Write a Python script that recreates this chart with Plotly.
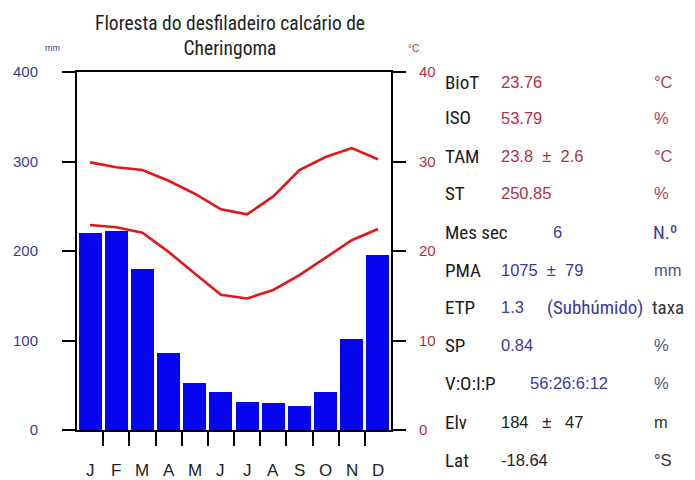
import plotly.graph_objects as go

months = ["J", "F", "M", "A", "M", "J", "J", "A", "S", "O", "N", "D"]
precip_mm = [220, 222, 180, 86, 53, 43, 31, 30, 27, 42, 102, 195]
tmax_c = [29.9, 29.35, 29.05, 27.85, 26.4, 24.65, 24.1, 26.1, 29.05, 30.5, 31.5, 30.25]
tmin_c = [22.9, 22.65, 22.05, 19.9, 17.5, 15.1, 14.7, 15.65, 17.3, 19.2, 21.2, 22.45]
left_ticks = [0, 100, 200, 300, 400]
right_ticks = [0, 10, 20, 30, 40]

title_lines = ["Floresta do desfiladeiro calcário de", "Cheringoma"]

table_labels = ["BioT", "ISO", "TAM", "ST", "Mes sec", "PMA", "ETP", "SP", "V:O:I:P", "Elv", "Lat"]
table_values = ["23.76", "53.79", "23.8  ±  2.6", "250.85", "6", "1075  ±  79", "1.3", "0.84",
                "56:26:6:12", "184   ±   47", "-18.64"]
table_units = ["°C", "%", "°C", "%", "N.º", "mm", "taxa", "%", "%", "m", "°S"]
table_groups = ["red", "red", "red", "red", "blue", "blue", "blue", "blue", "blue", "black", "black"]
etp_class = "(Subhúmido)"

W, H = 695, 480
OX, OY = 8, 8  # page body margin offset


def px(x):
    return (x - OX) / W


def py(y):
    return 1 - (y - OY) / H


x0, x1 = 77, 391
ytop, ybot = 72, 430

RED = "#b3303f"
BLUE = "#3a3a9c"
LABEL_FONT = "Liberation Sans Narrow, Roboto Condensed, Noto Sans, sans-serif"
VAL_FONT = "Liberation Sans, Arial, sans-serif"

fig = go.Figure()
fig.add_trace(go.Bar(x=list(range(12)), y=precip_mm, marker=dict(color="#0505f0", line=dict(width=0)),
                     width=0.88, xaxis="x", yaxis="y", showlegend=False))
fig.add_trace(go.Scatter(x=list(range(12)), y=tmax_c, mode="lines", line=dict(color="#e01818", width=2.6),
                         xaxis="x", yaxis="y2", showlegend=False))
fig.add_trace(go.Scatter(x=list(range(12)), y=tmin_c, mode="lines", line=dict(color="#e01818", width=2.6),
                         xaxis="x", yaxis="y2", showlegend=False))

ydom = [py(ybot), py(ytop)]
fig.update_layout(
    width=W, height=H, margin=dict(l=0, r=0, t=0, b=0, autoexpand=False),
    paper_bgcolor="white", plot_bgcolor="white",
    xaxis=dict(domain=[px(x0), px(x1)], range=[-0.5, 11.5], showgrid=False, zeroline=False,
               automargin=False,
               showline=True, linecolor="black", linewidth=2, mirror=True,
               tickmode="array", tickvals=[i + 0.5 for i in range(11)], ticktext=[""] * 11,
               ticks="outside", ticklen=14, tickwidth=2, tickcolor="black"),
    yaxis=dict(domain=ydom, range=[0, 400], showgrid=False, zeroline=False, automargin=False,
               showline=True, linecolor="black", linewidth=2,
               tickmode="array", tickvals=left_ticks, ticks="outside", ticklen=13, tickwidth=2,
               tickcolor="black", ticklabelstandoff=21,
               tickfont=dict(family=VAL_FONT, size=15, color=BLUE)),
    yaxis2=dict(domain=ydom, range=[0, 40], overlaying="y", side="right", anchor="x",
                automargin=False,
                showgrid=False, zeroline=False, showline=True, linecolor="black", linewidth=2,
                tickmode="array", tickvals=right_ticks, ticks="outside", ticklen=13, tickwidth=2,
                tickcolor="black", ticklabelstandoff=10,
                tickfont=dict(family=VAL_FONT, size=15, color=RED)),
    bargap=0,
)

ann = []
ann.append(dict(text="<br>".join(title_lines), x=px(230), y=py(36), xref="paper", yref="paper",
                xanchor="center", yanchor="middle", showarrow=False,
                font=dict(family=LABEL_FONT, size=19.5, color="#222222")))
ann.append(dict(text="mm", x=px(52), y=py(48), xref="paper", yref="paper", showarrow=False,
                xanchor="center", yanchor="middle",
                font=dict(family=VAL_FONT, size=9, color=BLUE)))
ann.append(dict(text="°C", x=px(413), y=py(48), xref="paper", yref="paper", showarrow=False,
                xanchor="center", yanchor="middle",
                font=dict(family=VAL_FONT, size=10, color=RED)))
for i, m in enumerate(months):
    ann.append(dict(text=m, x=i, y=py(470), xref="x", yref="paper", showarrow=False,
                    xanchor="center", yanchor="middle",
                    font=dict(family=VAL_FONT, size=17, color="#222222")))

row_y = [82, 118, 156, 193, 232, 270, 307, 345, 383, 422, 460]
val_x = {"V:O:I:P": 528, "Mes sec": 551}
colors = {"red": RED, "blue": BLUE, "black": "#222222"}
unit_colors = {"red": "#b04055", "blue": "#555577", "black": "#333333"}
for lab, val, unit, grp, yy in zip(table_labels, table_values, table_units, table_groups, row_y):
    ann.append(dict(text=lab, x=px(443), y=py(yy), xref="paper", yref="paper", xanchor="left",
                    yanchor="middle",
                    showarrow=False, font=dict(family=LABEL_FONT, size=19, color="#1a1a1a")))
    ann.append(dict(text=val, x=px(val_x.get(lab, 499)), y=py(yy), xref="paper", yref="paper",
                    xanchor="left", yanchor="middle", showarrow=False,
                    font=dict(family=VAL_FONT, size=16.5, color=colors[grp])))
    if lab == "ETP":
        ann.append(dict(text=etp_class, x=px(545), y=py(yy), xref="paper", yref="paper",
                        xanchor="left", yanchor="middle", showarrow=False,
                        font=dict(family=LABEL_FONT, size=19, color=BLUE)))
        ann.append(dict(text=unit, x=px(686), y=py(yy), xref="paper", yref="paper",
                        xanchor="right", yanchor="middle", showarrow=False,
                        font=dict(family=LABEL_FONT, size=19, color="#333333")))
    elif unit == "N.º":
        ann.append(dict(text=unit, x=px(651), y=py(yy), xref="paper", yref="paper",
                        xanchor="left", yanchor="middle", showarrow=False,
                        font=dict(family=LABEL_FONT, size=19, color=BLUE)))
    else:
        ann.append(dict(text=unit, x=px(652), y=py(yy), xref="paper", yref="paper",
                        xanchor="left", yanchor="middle", showarrow=False,
                        font=dict(family=VAL_FONT, size=16.5, color=unit_colors[grp])))
fig.update_layout(annotations=ann)

fig.write_html("out.html")
